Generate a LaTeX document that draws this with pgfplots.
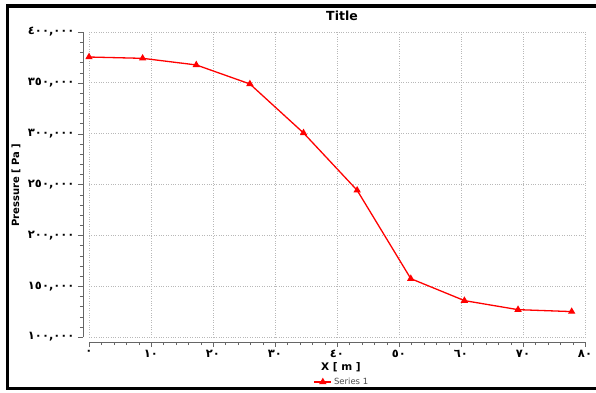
\documentclass[border=0pt]{standalone}
\usepackage{pgfplots}
\pgfplotsset{compat=1.18}
\usepackage{fontspec}
\setmainfont{DejaVu Sans}
\newfontfamily\arabicfont[Script=Arabic]{DejaVu Sans}
\begin{document}
\begin{tikzpicture}[x=1pt,y=1pt]
\path[use as bounding box] (0,0) rectangle (596,392);
\draw[line width=3.4pt] (610,386) -- (7.3,386) -- (7.3,3.5) -- (610,3.5);
\begin{axis}[
  at={(89pt,55pt)}, anchor=south west,
  scale only axis, width=496pt, height=305pt,
  xmin=0, xmax=80, ymin=100000, ymax=400000,
  axis lines=left, axis line style={-, draw=black!60},
  axis x line shift=5pt, axis y line shift=6pt,
  xtick={0,10,...,80},
  xticklabels={٠,١٠,٢٠,٣٠,٤٠,٥٠,٦٠,٧٠,٨٠},
  ytick={100000,150000,...,400000},
  yticklabels={١٠٠{,}٠٠٠,١٥٠{,}٠٠٠,٢٠٠{,}٠٠٠,٢٥٠{,}٠٠٠,٣٠٠{,}٠٠٠,٣٥٠{,}٠٠٠,٤٠٠{,}٠٠٠},
  scaled y ticks=false,
  minor x tick num=4, minor y tick num=4,
  tick align=outside, major tick length=5pt, minor tick length=3pt,
  tick style={black!60},
  tick label style={font=\arabicfont\bfseries\fontsize{11.5}{11.5}\selectfont},
  grid=major, major grid style={dotted, line width=0.8pt, black!28},
  xlabel={X [ m ]},
  xlabel style={font=\bfseries\fontsize{10.5}{10.5}\selectfont, at={(axis description cs:0.508,-0.098)}, anchor=center},
  ylabel={Pressure [ Pa ]},
  ylabel style={font=\bfseries\fontsize{10}{10}\selectfont, at={(axis description cs:-0.147,0.498)}, anchor=center},
  legend style={at={(axis description cs:0.51,-0.1475)}, anchor=center, draw=none, fill=none, font=\fontsize{8.5}{8.5}\selectfont\color{black!70}},
]
\addplot[red, line width=1.3pt, mark=triangle*, mark size=3pt] coordinates {
(0,375400) (8.65,374100) (17.3,367600) (25.95,348900) (34.6,300700)
(43.25,244300) (51.9,157400) (60.55,135800) (69.2,126900) (77.85,125000)
};
\addlegendentry{Series 1}
\end{axis}
\node[font=\bfseries\fontsize{12.5}{12.5}\selectfont] at (342,376) {Title};
\end{tikzpicture}
\end{document}
